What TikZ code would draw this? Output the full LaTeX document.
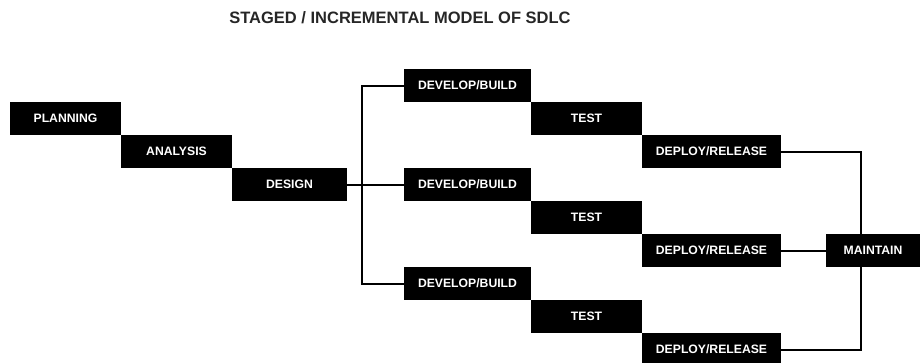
\documentclass[tikz,border=0pt]{standalone}
\usepackage{fontspec}
\setmainfont{Liberation Sans}
\usetikzlibrary{positioning}
\begin{document}
\begin{tikzpicture}[x=1pt,y=1pt,node distance=0pt,line width=2pt]
 \tikzstyle{stage node}=[rectangle,fill=black,text=white,inner sep=0,outer sep=0,minimum height=33pt,font=\fontsize{12.2}{14}\selectfont\bfseries]
 \tikzstyle{title node}=[text=black!85,font=\fontsize{16.5}{18}\selectfont\bfseries]
 \tikzset{
 	short node/.style={stage node,minimum width=111pt},
 	build node/.style={stage node,minimum width=127pt},
 	release node/.style={stage node,minimum width=139pt}
 }

 \useasboundingbox (0,0) rectangle (920,-362);

       \node[title node] (title) at (400,-18) {STAGED / INCREMENTAL MODEL OF SDLC};

       \node[short node,anchor=north west] (planning) at (10,-102) {PLANNING};
       \node[short node] (analysis) [below right=0pt and 0pt of planning] {ANALYSIS};
       \node[stage node,minimum width=115pt] (design) [below right=0pt and 0pt of analysis] {DESIGN};

       \node[build node] (dev2) [right=57pt of design] {DEVELOP/BUILD};
       \node[build node] (dev1) [above=66pt of dev2] {DEVELOP/BUILD};
       \node[build node] (dev3) [below=66pt of dev2] {DEVELOP/BUILD};

       \node[short node] (test1) [below right=0pt and 0pt of dev1] {TEST};
       \node[short node] (test2) [below right=0pt and 0pt of dev2] {TEST};
       \node[short node] (test3) [below right=0pt and 0pt of dev3] {TEST};

       \node[release node] (dep1) [below right=0pt and 0pt of test1] {DEPLOY/RELEASE};
       \node[release node] (dep2) [below right=0pt and 0pt of test2] {DEPLOY/RELEASE};
       \node[release node] (dep3) [below right=0pt and 0pt of test3] {DEPLOY/RELEASE};

       \node[stage node,minimum width=94pt] (maintain) [right=45pt of dep2] {MAINTAIN};

       \coordinate (fork) at ([xshift=15pt]design.east);

     \draw (design.east) -- (dev2.west);
     \draw (dev1.west) -| (fork) |- (dev3.west);

     \draw (dep1.east) -| ([xshift=-12pt]maintain.north);
     \draw (dep2.east) -- (maintain.west);
     \draw (dep3.east) -| ([xshift=-12pt]maintain.south);
 \end{tikzpicture}
\end{document}
